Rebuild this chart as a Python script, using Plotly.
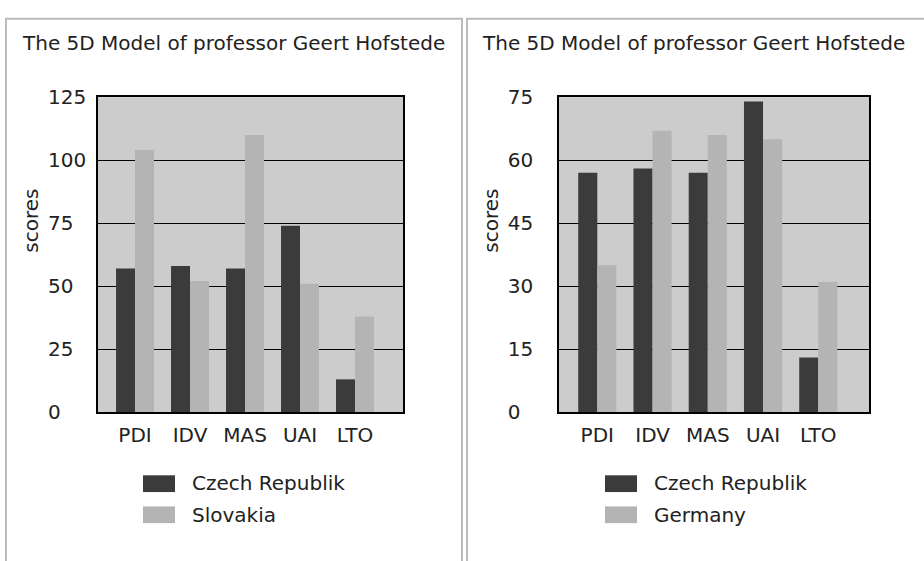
import plotly.graph_objects as go

# ---- data ----
categories = ["PDI", "IDV", "MAS", "UAI", "LTO"]
czech = [57, 58, 57, 74, 13]
slovakia = [104, 52, 110, 51, 38]
germany = [35, 67, 66, 65, 31]
left_ticks = [0, 25, 50, 75, 100, 125]
right_ticks = [0, 15, 30, 45, 60, 75]
chart_title = "The 5D Model of professor Geert Hofstede"
y_title = "scores"
name_cz = "Czech Republik"
name_sk = "Slovakia"
name_de = "Germany"

# ---- style ----
W, H = 924, 561
DARK = "#3b3b3b"
LIGHT = "#b4b4b4"
PLOT_BG = "#cccccc"
BORDER = "#bbbbbb"
FONT = "DejaVu Sans"
FS = 20
TXT = "#222222"


def fx(px):
    return px / W


def fy(py):
    return 1 - py / H


def pad(vals):
    n = max(len(str(v)) for v in vals)
    return [str(v) + "\u2007" * (n - len(str(v))) for v in vals]


fig = go.Figure()
fig.add_trace(go.Bar(x=categories, y=czech, name=name_cz, marker_color=DARK,
                     marker_line_width=0, xaxis="x", yaxis="y", showlegend=False))
fig.add_trace(go.Bar(x=categories, y=slovakia, name=name_sk, marker_color=LIGHT,
                     marker_line_width=0, xaxis="x", yaxis="y", showlegend=False))
fig.add_trace(go.Bar(x=categories, y=czech, name=name_cz, marker_color=DARK,
                     marker_line_width=0, xaxis="x2", yaxis="y2", showlegend=False))
fig.add_trace(go.Bar(x=categories, y=germany, name=name_de, marker_color=LIGHT,
                     marker_line_width=0, xaxis="x2", yaxis="y2", showlegend=False))

axis_common = dict(showline=True, linecolor="black", linewidth=1.5, mirror=True,
                   ticks="", tickfont=dict(family=FONT, size=FS, color=TXT), zeroline=False)

fig.update_layout(
    width=W, height=H,
    margin=dict(l=0, r=0, t=0, b=0),
    paper_bgcolor="white", plot_bgcolor=PLOT_BG,
    barmode="group", bargap=0.31, bargroupgap=0,
    font=dict(family=FONT, size=FS, color=TXT),
    xaxis=dict(domain=[fx(98), fx(403)], anchor="y", range=[-0.673, 4.873],
               showgrid=False, ticklabelstandoff=4, **axis_common),
    yaxis=dict(domain=[fy(418), fy(89)], anchor="x", range=[0, 125],
               tickvals=left_ticks, ticktext=pad(left_ticks),
               showgrid=True, gridcolor="black", gridwidth=1.3,
               ticklabelstandoff=6, **axis_common),
    xaxis2=dict(domain=[fx(559), fx(869)], anchor="y2", range=[-0.693, 4.918],
                showgrid=False, ticklabelstandoff=4, **axis_common),
    yaxis2=dict(domain=[fy(418), fy(89)], anchor="x2", range=[0, 75],
                tickvals=right_ticks, ticktext=pad(right_ticks),
                showgrid=True, gridcolor="black", gridwidth=1.3,
                ticklabelstandoff=20, **axis_common),
    showlegend=False,
)

shapes = []
annotations = []
# panel frames
for x0, x1 in [(6, 462), (467, 940)]:
    shapes.append(dict(type="rect", xref="paper", yref="paper",
                       x0=fx(x0), x1=fx(x1), y0=fy(580), y1=fy(7),
                       line=dict(color=BORDER, width=2), fillcolor="rgba(0,0,0,0)",
                       layer="below"))

panels = [
    dict(title_x=20, ytitle_x=31, sw_x=143, txt_x=190, names=[name_cz, name_sk]),
    dict(title_x=480, ytitle_x=491, sw_x=605, txt_x=652, names=[name_cz, name_de]),
]
for p in panels:
    annotations.append(dict(text=chart_title, xref="paper", yref="paper",
                            x=fx(p["title_x"]), y=fy(32), xanchor="left", yanchor="middle",
                            showarrow=False, font=dict(family=FONT, size=FS, color=TXT)))
    annotations.append(dict(text=y_title, xref="paper", yref="paper",
                            x=fx(p["ytitle_x"]), y=fy(218), xanchor="center", yanchor="middle",
                            textangle=-90, showarrow=False,
                            font=dict(family=FONT, size=FS, color=TXT)))
    for i, (nm, col) in enumerate(zip(p["names"], [DARK, LIGHT])):
        top = 484 + i * 32.5
        shapes.append(dict(type="rect", xref="paper", yref="paper",
                           x0=fx(p["sw_x"]), x1=fx(p["sw_x"] + 32),
                           y0=fy(top + 17.5), y1=fy(top),
                           line=dict(width=0), fillcolor=col))
        annotations.append(dict(text=nm, xref="paper", yref="paper",
                                x=fx(p["txt_x"]), y=fy(top + 8.5), xanchor="left",
                                yanchor="middle", showarrow=False,
                                font=dict(family=FONT, size=FS, color=TXT)))

fig.update_layout(shapes=shapes, annotations=annotations)
fig.write_html("out.html", config={"displayModeBar": False},
               post_script="document.body.style.margin='0';document.body.style.overflow='hidden';")
